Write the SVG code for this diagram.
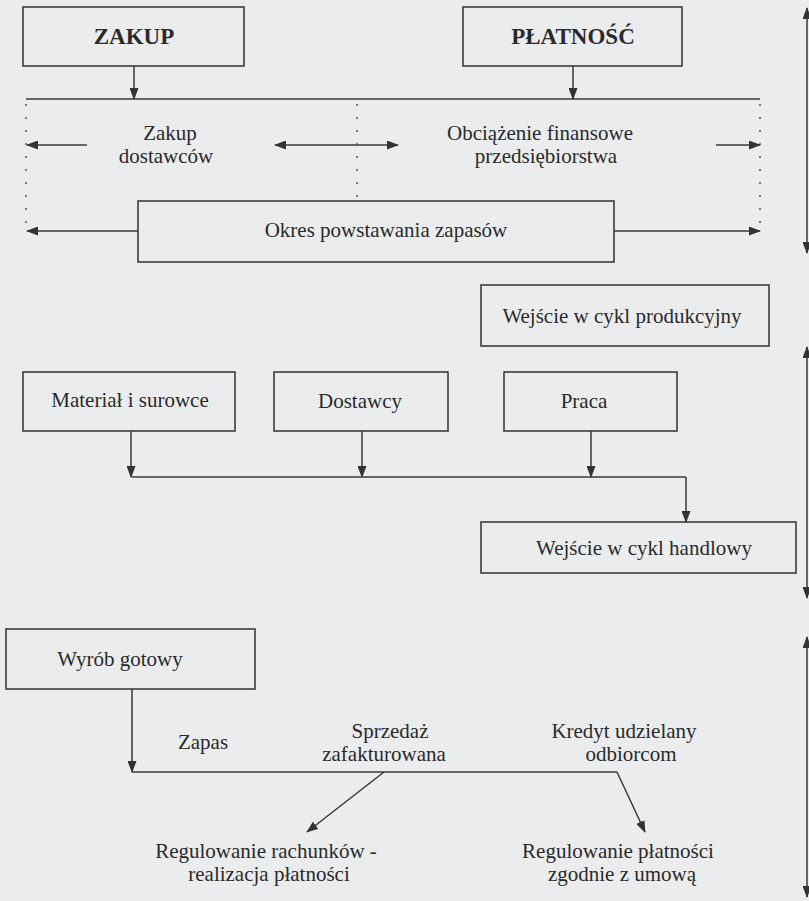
<svg xmlns="http://www.w3.org/2000/svg" width="809" height="901" viewBox="0 0 809 901">
<defs>
<marker id="ah" markerWidth="12" markerHeight="9" refX="11" refY="4.5" orient="auto" markerUnits="userSpaceOnUse">
<path d="M0,0 L12,4.5 L0,9 Z" fill="#333"/>
</marker>
<marker id="ahs" markerWidth="12" markerHeight="9" refX="1" refY="4.5" orient="auto" markerUnits="userSpaceOnUse">
<path d="M12,0 L0,4.5 L12,9 Z" fill="#333"/>
</marker>
</defs>
<style>
.box{fill:none;stroke:#3c3c3c;stroke-width:1.6}
.t{font-family:"Liberation Serif","Times New Roman",serif;font-size:21px;fill:#2a2a2a;text-anchor:middle}
.b{font-weight:bold;font-size:23px}
.ln{fill:none;stroke:#3a3a3a;stroke-width:1.5}
.ar{fill:none;stroke:#3a3a3a;stroke-width:1.5;marker-end:url(#ah)}
.ar2{fill:none;stroke:#3a3a3a;stroke-width:1.5;marker-end:url(#ah);marker-start:url(#ahs)}
.dot{fill:none;stroke:#555;stroke-width:1.5;stroke-dasharray:2 11}
</style>
<rect width="809" height="901" fill="#eaeced"/>

<g id="connectors">
<path class="ar" d="M134,66 V99"/>
<path class="ar" d="M573,66 V99"/>
<path class="ln" d="M26,99 H760"/>
<path class="dot" d="M26,104 V230"/>
<path class="dot" d="M357,104 V200"/>
<path class="dot" d="M760,104 V228"/>
<path class="ar" d="M87,145 H27"/>
<path class="ar2" d="M275,145 H398"/>
<path class="ar" d="M716,145 H760"/>
<path class="ar" d="M138,231 H27"/>
<path class="ar" d="M614,231 H760"/>
<path class="ar" d="M131,431 V477"/>
<path class="ar" d="M362,431 V477"/>
<path class="ar" d="M591,431 V477"/>
<path class="ln" d="M132,477 H686"/>
<path class="ar" d="M686,477 V522"/>
<path class="ar" d="M132,689 V772"/>
<path class="ln" d="M132,772 H617"/>
<path class="ar" d="M384,772 L307,832"/>
<path class="ar" d="M617,772 L645,832"/>
<path class="ar2" d="M807,253 V8"/>
<path class="ar2" d="M807,347 V598"/>
<path class="ar2" d="M807,637 V897"/>
</g>

<g id="zakup"><rect class="box" x="23" y="7" width="221" height="59"/><text class="t b" x="134" y="44">ZAKUP</text></g>
<g id="platnosc"><rect class="box" x="463" y="7" width="219" height="59"/><text class="t b" x="573" y="44">PŁATNOŚĆ</text></g>
<g id="zakup-dostawcow"><text class="t" x="170" y="140">Zakup</text><text class="t" x="166" y="163">dostawców</text></g>
<g id="obciazenie"><text class="t" x="540" y="140">Obciążenie finansowe</text><text class="t" x="546" y="163">przedsiębiorstwa</text></g>
<g id="okres"><rect class="box" x="138" y="201" width="476" height="61"/><text class="t" x="386" y="237">Okres powstawania zapasów</text></g>
<g id="cykl-produkcyjny"><rect class="box" x="481" y="285" width="288" height="61"/><text class="t" x="622" y="323">Wejście w cykl produkcyjny</text></g>
<g id="material"><rect class="box" x="23" y="372" width="212" height="59"/><text class="t" x="130" y="407">Materiał i surowce</text></g>
<g id="dostawcy"><rect class="box" x="274" y="372" width="174" height="59"/><text class="t" x="360" y="408">Dostawcy</text></g>
<g id="praca"><rect class="box" x="504" y="372" width="173" height="59"/><text class="t" x="584" y="408">Praca</text></g>
<g id="cykl-handlowy"><rect class="box" x="481" y="522" width="315" height="51"/><text class="t" x="644" y="555">Wejście w cykl handlowy</text></g>
<g id="wyrob"><rect class="box" x="6" y="629" width="249" height="60"/><text class="t" x="120" y="666">Wyrób gotowy</text></g>
<g id="zapas"><text class="t" x="203" y="749">Zapas</text></g>
<g id="sprzedaz"><text class="t" x="390" y="738">Sprzedaż</text><text class="t" x="384" y="761">zafakturowana</text></g>
<g id="kredyt"><text class="t" x="624" y="738">Kredyt udzielany</text><text class="t" x="631" y="761">odbiorcom</text></g>
<g id="reg-rachunkow"><text class="t" x="266" y="858">Regulowanie rachunków -</text><text class="t" x="269" y="881">realizacja płatności</text></g>
<g id="reg-platnosci"><text class="t" x="618" y="858">Regulowanie płatności</text><text class="t" x="622" y="881">zgodnie z umową</text></g>
</svg>
